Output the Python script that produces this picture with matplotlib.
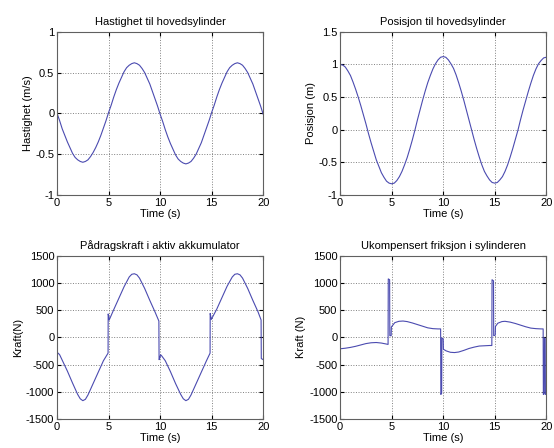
import numpy as np
import matplotlib
matplotlib.use("Agg")
import matplotlib.pyplot as plt

plt.rcParams['font.family'] = ['Liberation Sans', 'DejaVu Sans']
plt.rcParams['font.size'] = 8
plt.rcParams['axes.unicode_minus'] = False

# time grid for the two smooth signals (s), 0.25 s steps
t_top = [0, 0.25, 0.5, 0.75, 1, 1.25, 1.5, 1.75, 2, 2.25, 2.5, 2.75, 3, 3.25, 3.5, 3.75,
         4, 4.25, 4.5, 4.75, 5, 5.25, 5.5, 5.75, 6, 6.25, 6.5, 6.75, 7, 7.25, 7.5, 7.75,
         8, 8.25, 8.5, 8.75, 9, 9.25, 9.5, 9.75, 10, 10.25, 10.5, 10.75, 11, 11.25, 11.5,
         11.75, 12, 12.25, 12.5, 12.75, 13, 13.25, 13.5, 13.75, 14, 14.25, 14.5, 14.75,
         15, 15.25, 15.5, 15.75, 16, 16.25, 16.5, 16.75, 17, 17.25, 17.5, 17.75, 18,
         18.25, 18.5, 18.75, 19, 19.25, 19.5, 19.75, 20]

hastighet = [0, -0.09, -0.19, -0.27, -0.35, -0.42, -0.49, -0.54, -0.57, -0.59,
             -0.60, -0.59, -0.57, -0.53, -0.48, -0.42, -0.35, -0.27, -0.18, -0.09,
             0.01, 0.10, 0.20, 0.29, 0.37, 0.44, 0.51, 0.56, 0.59, 0.61,
             0.62, 0.61, 0.59, 0.55, 0.50, 0.43, 0.36, 0.27, 0.18, 0.09,
             -0.01, -0.10, -0.20, -0.29, -0.37, -0.44, -0.51, -0.56, -0.59, -0.61,
             -0.62, -0.61, -0.59, -0.55, -0.50, -0.43, -0.36, -0.27, -0.18, -0.09,
             0.01, 0.10, 0.20, 0.29, 0.37, 0.44, 0.51, 0.56, 0.59, 0.61,
             0.62, 0.61, 0.59, 0.55, 0.50, 0.43, 0.36, 0.27, 0.18, 0.09, -0.01]

posisjon = [1.00, 0.99, 0.96, 0.90, 0.83, 0.73, 0.62, 0.50, 0.37, 0.23,
            0.09, -0.06, -0.20, -0.33, -0.46, -0.56, -0.66, -0.73, -0.79, -0.82,
            -0.83, -0.82, -0.78, -0.72, -0.64, -0.54, -0.43, -0.30, -0.16, -0.01,
            0.15, 0.30, 0.45, 0.59, 0.72, 0.83, 0.93, 1.01, 1.07, 1.11,
            1.12, 1.11, 1.07, 1.01, 0.94, 0.84, 0.72, 0.59, 0.45, 0.30,
            0.15, 0.00, -0.15, -0.29, -0.42, -0.54, -0.64, -0.71, -0.77, -0.81,
            -0.82, -0.81, -0.77, -0.72, -0.64, -0.54, -0.42, -0.29, -0.15, -0.01,
            0.15, 0.30, 0.44, 0.58, 0.71, 0.83, 0.93, 1.01, 1.06, 1.10, 1.11]

# paadragskraft, irregular sampling around the jumps
t_kraft = [0, 0.1, 0.25, 0.5, 1.0, 1.5, 2.0, 2.25, 2.5, 2.75, 3.0, 3.5, 4.0, 4.5, 4.95,
           4.96, 5.02, 5.06, 5.5, 6.0, 6.5, 7.0, 7.25, 7.5, 7.75, 8.0, 8.5, 9.0, 9.5, 9.88,
           9.9, 9.96, 10.05, 10.15, 10.5, 11.0, 11.5, 12.0, 12.25, 12.5, 12.75, 13.0, 13.5,
           14.0, 14.5, 14.85,
           14.86, 14.92, 14.97, 15.5, 16.0, 16.5, 17.0, 17.25, 17.5, 17.75, 18.0, 18.5,
           19.0, 19.5, 19.8, 19.82, 20.0]
kraft = [-320, -290, -320, -420, -620, -840, -1050, -1130, -1165, -1140, -1060, -850, -640, -430, -290,
         430, 380, 320, 510, 720, 930, 1110, 1160, 1170, 1150, 1090, 900, 680, 470, 300,
         -410, -390, -320, -340, -430, -630, -850, -1050, -1130, -1165, -1140, -1060, -850,
         -640, -430, -290,
         440, 380, 330, 520, 730, 940, 1110, 1160, 1170, 1150, 1090, 900,
         680, 470, 320, -390, -410]

# ukompensert friksjon
t_friksjon = [0, 0.02, 0.5, 1.0, 1.5, 2.0, 2.5, 3.0, 3.5, 4.0, 4.4, 4.65,
              4.67, 4.8, 4.82, 4.95, 4.97, 5.3, 5.7, 6.1, 6.5, 7.0, 7.5, 8.0, 8.5, 9.0, 9.5, 9.75,
              9.77, 9.85, 9.87, 10.0, 10.02, 10.3, 10.7, 11.1, 11.5, 12.0, 12.5, 13.0, 13.5,
              14.0, 14.5, 14.72,
              14.74, 14.88, 14.9, 15.05, 15.07, 15.3, 15.7, 16.0, 16.5, 17.0, 17.5, 18.0,
              18.5, 19.0, 19.5, 19.7, 19.72, 19.8, 19.82, 19.9, 19.92, 20.0]
friksjon = [0, -210, -200, -185, -165, -140, -115, -100, -95, -105, -120, -130,
            1075, 1060, 30, 30, 190, 270, 295, 300, 290, 265, 235, 205, 175, 160, 155, 155,
            -1050, -1030, -10, -30, -220, -250, -275, -280, -270, -240, -205, -180, -160,
            -155, -150, -150,
            1060, 1040, 30, 40, 200, 260, 290, 295, 280, 255, 225, 195,
            170, 160, 155, 155, -1050, -1040, -10, -20, -1050, -1050]

line_color = '#4b4bb0'

panels = [
    (t_top, hastighet, "Hastighet til hovedsylinder", "Hastighet (m/s)",
     [-1, -0.5, 0, 0.5, 1], ["-1", "-0.5", "0", "0.5", "1"]),
    (t_top, posisjon, "Posisjon til hovedsylinder", "Posisjon (m)",
     [-1, -0.5, 0, 0.5, 1, 1.5], ["-1", "-0.5", "0", "0.5", "1", "1.5"]),
    (t_kraft, kraft, "Pådragskraft i aktiv akkumulator", "Kraft(N)",
     [-1500, -1000, -500, 0, 500, 1000, 1500],
     ["-1500", "-1000", "-500", "0", "500", "1000", "1500"]),
    (t_friksjon, friksjon, "Ukompensert friksjon i sylinderen", "Kraft (N)",
     [-1500, -1000, -500, 0, 500, 1000, 1500],
     ["-1500", "-1000", "-500", "0", "500", "1000", "1500"]),
]

rects = [[0.103, 0.565, 0.372, 0.364],
         [0.614, 0.565, 0.372, 0.364],
         [0.103, 0.065, 0.372, 0.364],
         [0.614, 0.065, 0.372, 0.364]]

fig = plt.figure(figsize=(5.54, 4.48), dpi=100)

for rect, (tt, yy, title, ylabel, yticks, ylabels) in zip(rects, panels):
    ax = fig.add_axes(rect)
    ax.plot(tt, yy, color=line_color, linewidth=0.8)
    ax.set_xlim(0, 20)
    ax.set_ylim(yticks[0], yticks[-1])
    ax.set_xticks([0, 5, 10, 15, 20])
    ax.set_xticklabels(["0", "5", "10", "15", "20"])
    ax.set_yticks(yticks)
    ax.set_yticklabels(ylabels)
    ax.grid(True, linestyle=':', color='#808080', linewidth=0.7)
    ax.tick_params(direction='in', length=3, top=True, right=True, pad=2, labelsize=8)
    for sp in ax.spines.values():
        sp.set_color('#606060')
        sp.set_linewidth(0.8)
    ax.set_title(title, fontsize=8, pad=5)
    ax.set_xlabel("Time (s)", labelpad=1)
    ax.set_ylabel(ylabel, labelpad=2)

fig.savefig("out.png", dpi=100)
